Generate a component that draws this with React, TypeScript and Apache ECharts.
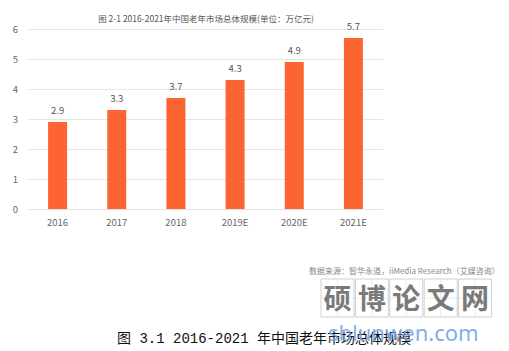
import React, { useEffect, useRef } from "react";
import * as echarts from "echarts";

const categories = ["2016", "2017", "2018", "2019E", "2020E", "2021E"];
const values = [2.9, 3.3, 3.7, 4.3, 4.9, 5.7];
const yTicks = [0, 1, 2, 3, 4, 5, 6];
const chartTitle = "图 2-1 2016-2021年中国老年市场总体规模(单位：万亿元)";
const sourceText = "数据来源：智华永道，iiMedia Research（艾媒咨询）";
const caption = "图 3.1 2016-2021 年中国老年市场总体规模";
const watermarkChars = ["硕", "博", "论", "文", "网"];
const watermarkUrl = "sblunwen.com";

export default function App() {
  const ref = useRef<HTMLDivElement>(null);
  useEffect(() => {
    document.body.style.margin = "0";
    const chart = echarts.init(ref.current!, null, { renderer: "svg" });
    const cjk = "'Noto Sans CJK SC', 'Noto Sans', sans-serif";
    const boxes: any[] = [];
    watermarkChars.forEach((ch, i) => {
      const x = 321 + i * 34.4;
      boxes.push({
        type: "rect",
        shape: { x, y: 279, width: 33, height: 38 },
        style: { fill: "none", stroke: "#d0d0d0", lineWidth: 1 },
        silent: true,
      });
      boxes.push({
        type: "line",
        shape: { x1: x + 16.5, y1: 279, x2: x + 16.5, y2: 317 },
        style: { stroke: "#e6e6e6", lineWidth: 0.8 },
        silent: true,
      });
      boxes.push({
        type: "line",
        shape: { x1: x, y1: 298, x2: x + 33, y2: 298 },
        style: { stroke: "#e6e6e6", lineWidth: 0.8 },
        silent: true,
      });
      boxes.push({
        type: "text",
        x: x + 16.5,
        y: 297,
        style: {
          text: ch,
          fill: "#7a7a7a",
          font: `bold 28px ${cjk}`,
          align: "center",
          verticalAlign: "middle",
        },
        silent: true,
      });
    });
    chart.setOption({
      animation: false,
      backgroundColor: "#ffffff",
      title: {
        text: chartTitle,
        left: 201,
        textAlign: "center",
        top: 9,
        textStyle: { fontSize: 8.5, fontWeight: "normal", color: "#555", fontFamily: cjk },
      },
      grid: { left: 28, top: 29, width: 355, height: 180, containLabel: false },
      xAxis: {
        type: "category",
        data: categories,
        axisLine: { show: true, lineStyle: { color: "#e2e2e2" } },
        axisTick: { show: false },
        axisLabel: { color: "#666", fontSize: 9.5, margin: 8, fontFamily: cjk },
      },
      yAxis: {
        type: "value",
        min: yTicks[0],
        max: yTicks[yTicks.length - 1],
        interval: 1,
        axisLine: { show: false },
        axisTick: { show: false },
        axisLabel: { color: "#666", fontSize: 9.5, margin: 10, fontFamily: cjk },
        splitLine: { lineStyle: { color: "#e6e6e6" } },
      },
      series: [
        {
          type: "bar",
          data: values,
          barWidth: 19,
          itemStyle: { color: "#FC6432" },
          label: {
            show: true,
            position: "top",
            distance: 7,
            color: "#555",
            fontSize: 9.5,
            fontFamily: cjk,
          },
        },
      ],
      graphic: [
        {
          type: "text",
          x: 309,
          y: 270,
          style: {
            text: sourceText,
            fill: "#888",
            font: `8px ${cjk}`,
            verticalAlign: "middle",
          },
          silent: true,
        },
        ...boxes,
        {
          type: "text",
          x: 117,
          y: 339,
          style: {
            text: caption,
            fill: "#111",
            font: `14px 'Liberation Mono', 'Noto Sans CJK SC', monospace`,
            align: "left",
            verticalAlign: "middle",
          },
          silent: true,
        },
        {
          type: "text",
          x: 328,
          y: 332,
          style: {
            text: watermarkUrl,
            fill: "rgba(110,160,230,0.85)",
            font: `22px 'Noto Sans', sans-serif`,
            align: "left",
            verticalAlign: "middle",
          },
          silent: true,
        },
      ],
    });
    return () => chart.dispose();
  }, []);
  return (
    <div
      ref={ref}
      style={{ position: "absolute", left: 0, top: 0, width: 509, height: 351 }}
    />
  );
}
